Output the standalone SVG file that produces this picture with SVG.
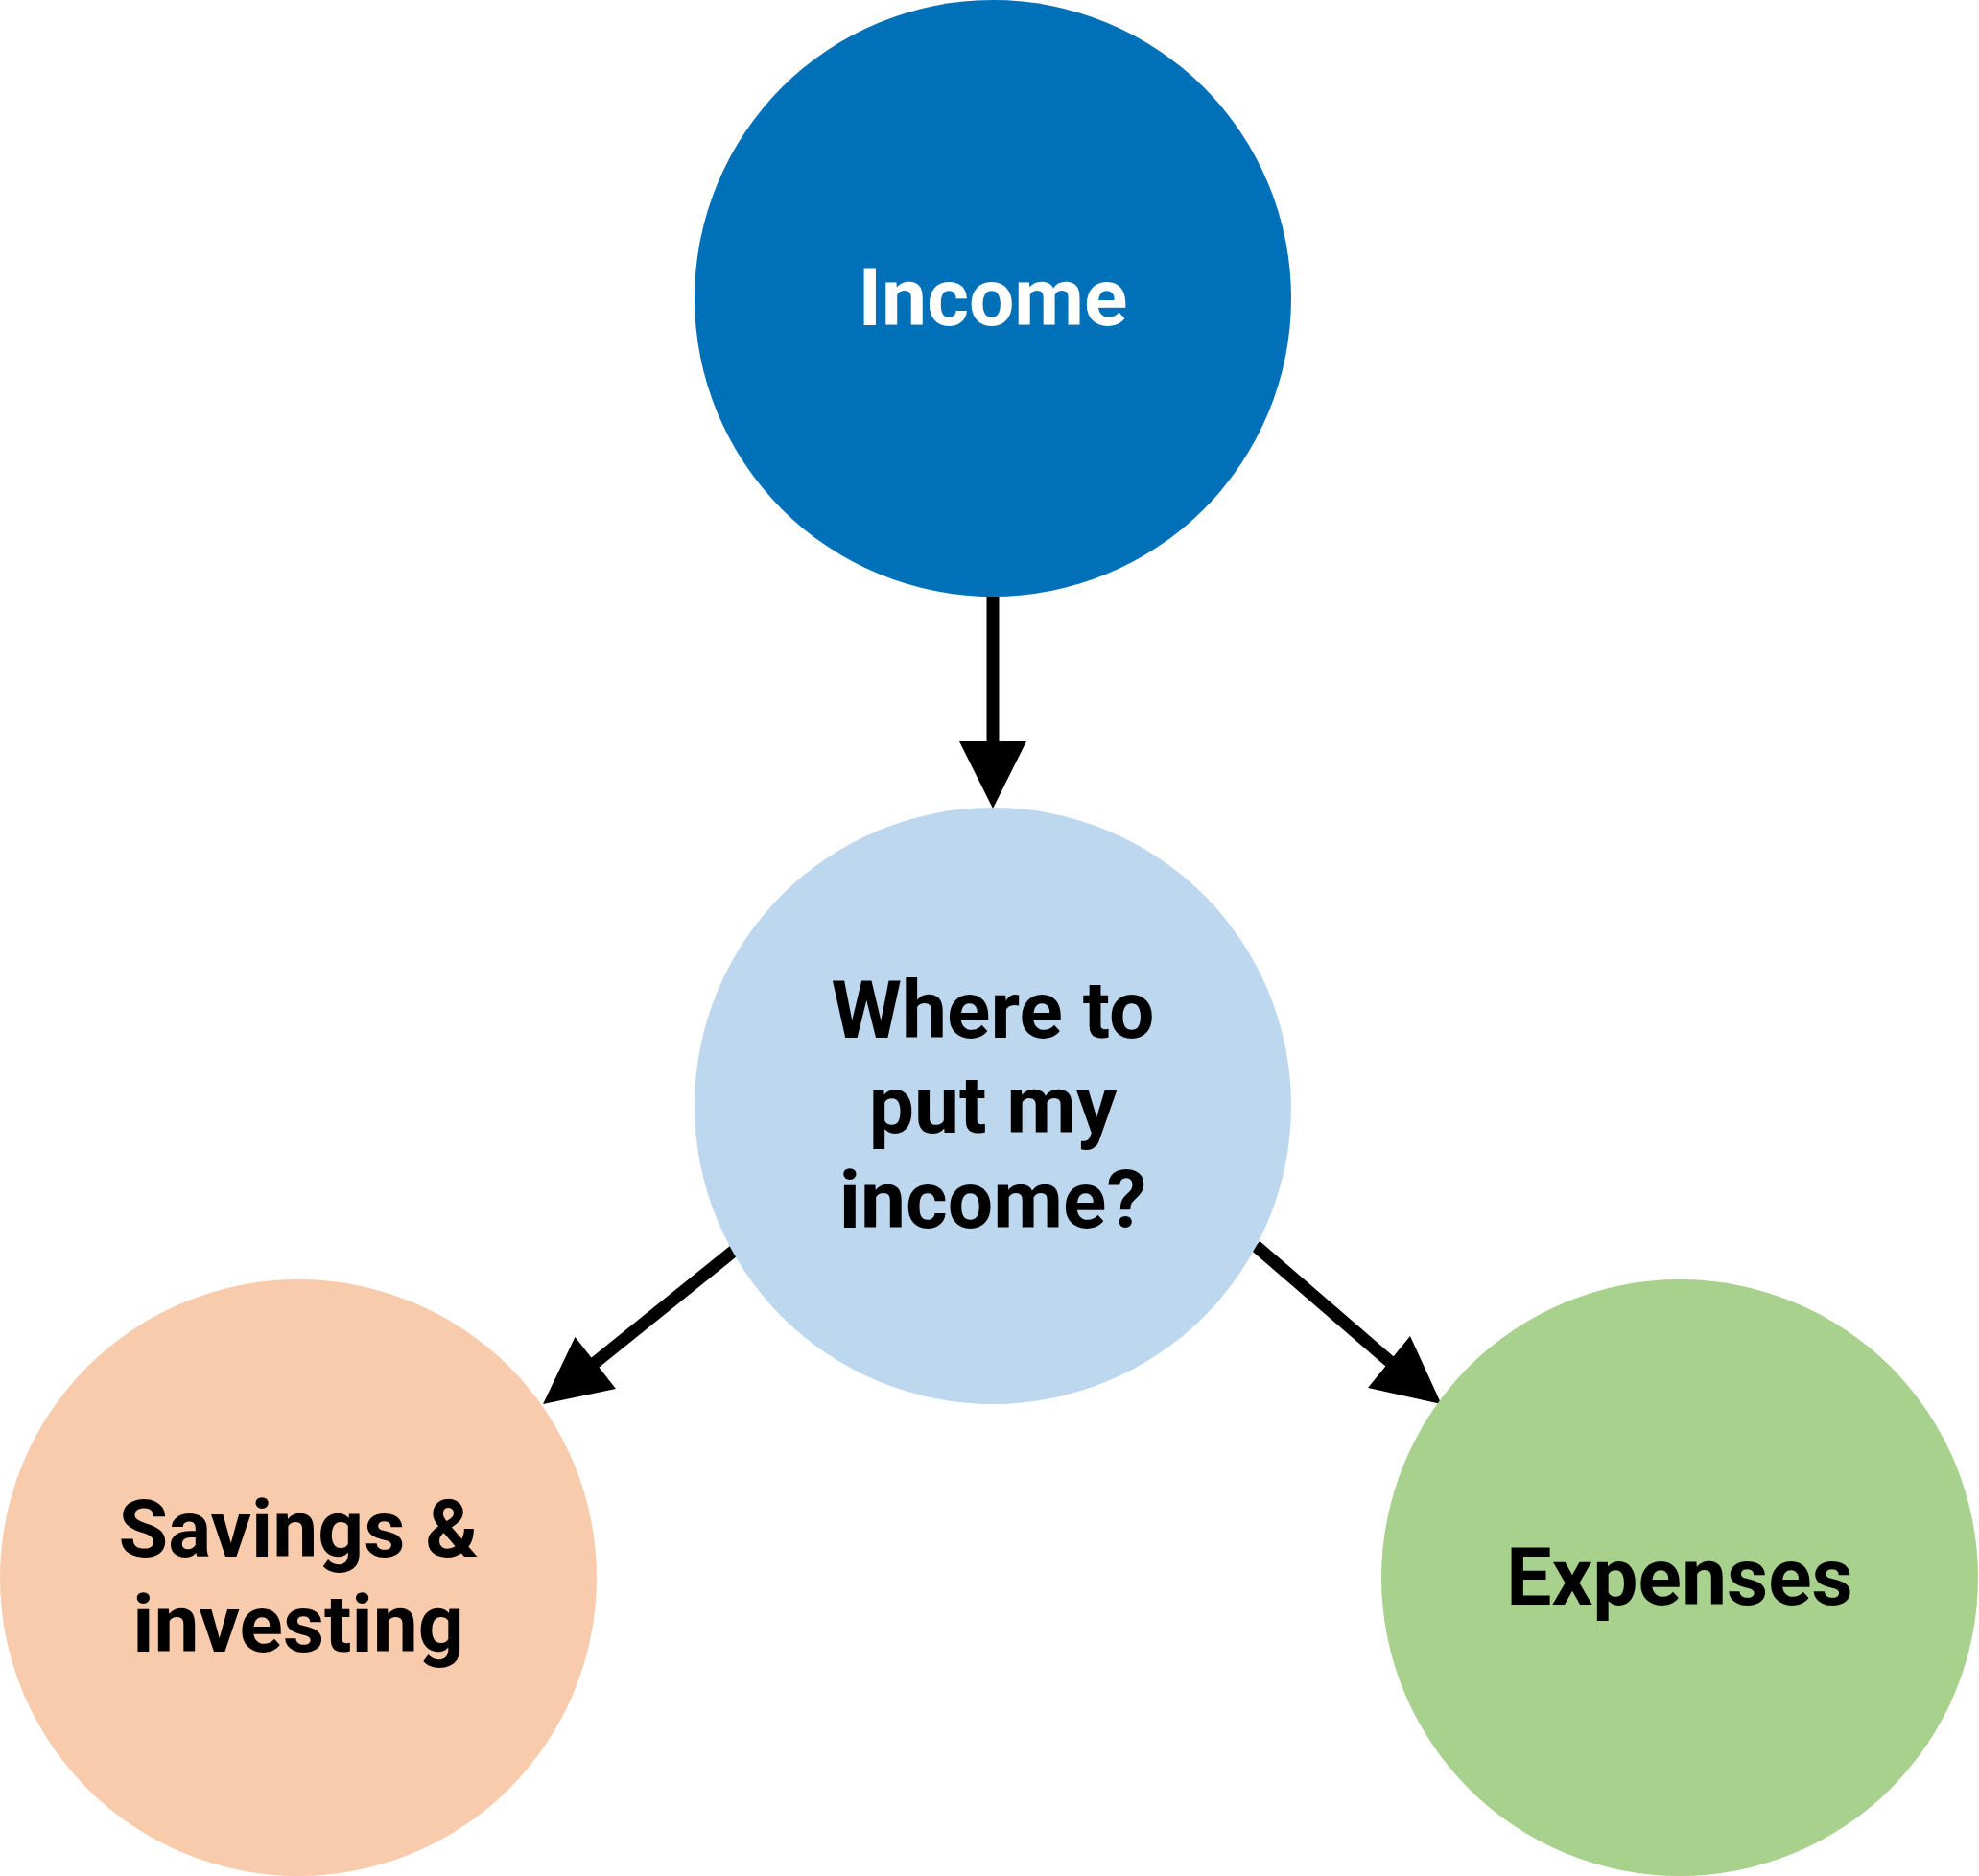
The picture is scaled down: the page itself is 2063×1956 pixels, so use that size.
<svg xmlns="http://www.w3.org/2000/svg" width="2063" height="1956" viewBox="0 0 2063 1956">
<style>
.lbl{font-family:Roboto,"Liberation Sans",sans-serif;font-weight:bold;font-size:84px;text-anchor:middle;fill:#000}
.w{fill:#fff}
.edge{stroke:#000;stroke-width:13;fill:none}
.head{fill:#000}
</style>
<rect width="2063" height="1956" fill="#fff"/>
<g id="connectors">
<line class="edge" x1="1035" y1="622" x2="1035" y2="778"/>
<polygon class="head" points="1000,773 1070,773 1035,843"/>
<line class="edge" x1="765" y1="1304" x2="615" y2="1425"/>
<polygon class="head" points="599.5,1394 642,1448 566,1464"/>
<line class="edge" x1="1309" y1="1299" x2="1455" y2="1425"/>
<polygon class="head" points="1470,1393 1426,1447 1502.5,1464"/>
</g>
<g id="income">
<circle cx="1035" cy="311" r="311" fill="#0070B8"/>
<text class="lbl w" x="1035" y="339">Income</text>
</g>
<g id="where">
<circle cx="1035" cy="1153" r="311" fill="#BDD7EE"/>
<text class="lbl" x="1035" y="1082">Where to</text>
<text class="lbl" x="1035" y="1181">put my</text>
<text class="lbl" x="1035" y="1280">income?</text>
</g>
<g id="savings">
<circle cx="311" cy="1645" r="311" fill="#F8CBAD"/>
<text class="lbl" x="311" y="1623">Savings &amp;</text>
<text class="lbl" x="311" y="1722">investing</text>
</g>
<g id="expenses">
<circle cx="1751" cy="1645" r="311" fill="#A9D18E"/>
<text class="lbl" x="1751" y="1673">Expenses</text>
</g>
</svg>
